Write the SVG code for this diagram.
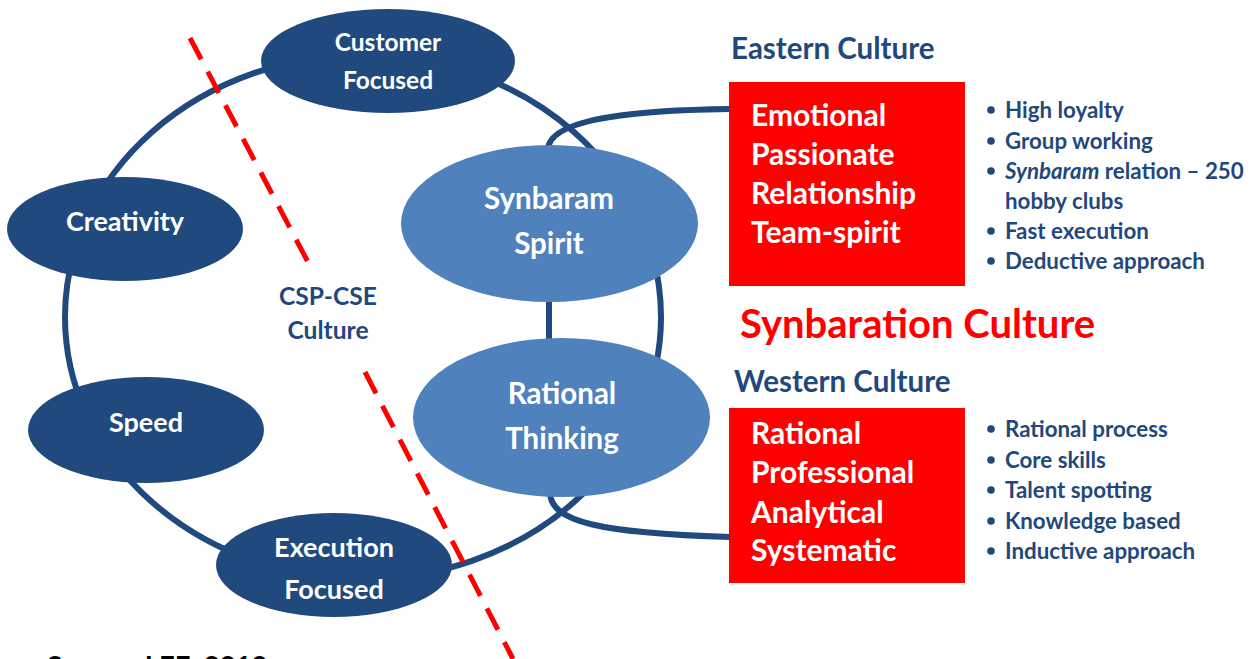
<svg xmlns="http://www.w3.org/2000/svg" width="1260" height="659" viewBox="0 0 1260 659">
  <style>
    .ring { fill: none; stroke: #204A7E; stroke-width: 6; }
    .link { fill: none; stroke: #204A7E; stroke-width: 6; }
    .cut { fill: none; stroke: #FF0000; stroke-width: 5; stroke-dasharray: 24 14; }
    .dark { fill: #204A7E; }
    .light { fill: #4F81BD; }
    .box { fill: #FF0000; }
    text { font-family: Lato, "Open Sans", sans-serif; font-weight: bold; }
    .wt { fill: #FFFFFF; font-size: 27px; text-anchor: middle; }
    .wt.top { font-size: 24.5px; }
    .wl { fill: #FFFFFF; font-size: 29.5px; text-anchor: middle; }
    .bx { fill: #FFFFFF; font-size: 30px; }
    .hd { fill: #1F497D; font-size: 29.5px; }
    .li { fill: #1F497D; font-size: 22.3px; }
    .ct { fill: #1F497D; font-size: 24.6px; text-anchor: middle; }
    .bul { fill: #1F497D; }
  </style>

  <!-- outer cycle and the links to the culture boxes -->
  <g id="connectors">
    <ellipse class="ring" cx="363" cy="317" rx="298" ry="262"/>
    <path class="link" d="M730,109 C650,110 548,116 548,150"/>
    <line class="link" x1="549" y1="290" x2="549" y2="345"/>
    <path class="link" d="M550,492 C550,522 600,533 730,537"/>
  </g>

  <!-- divider between the two halves -->
  <g id="divider">
    <line class="cut" x1="190" y1="38" x2="310" y2="266"/>
    <line class="cut" x1="365" y1="372" x2="513" y2="659"/>
  </g>

  <g id="customer-focused">
    <ellipse class="dark" cx="388" cy="61" rx="127" ry="52"/>
    <text class="wt top" x="388" y="51">Customer</text>
    <text class="wt top" x="388" y="89">Focused</text>
  </g>

  <g id="creativity">
    <ellipse class="dark" cx="125" cy="229" rx="118" ry="52"/>
    <text class="wt" x="125" y="231">Creativity</text>
  </g>

  <g id="speed">
    <ellipse class="dark" cx="146" cy="430" rx="118" ry="53"/>
    <text class="wt" x="146" y="432">Speed</text>
  </g>

  <g id="execution-focused">
    <ellipse class="dark" cx="334" cy="565" rx="118" ry="52"/>
    <text class="wt" x="334" y="557">Execution</text>
    <text class="wt" x="334" y="599">Focused</text>
  </g>

  <g id="synbaram-spirit">
    <ellipse class="light" cx="549.5" cy="223.5" rx="148.5" ry="78.5"/>
    <text class="wl" x="549" y="209">Synbaram</text>
    <text class="wl" x="549" y="254">Spirit</text>
  </g>

  <g id="rational-thinking">
    <ellipse class="light" cx="561.5" cy="417.5" rx="148.5" ry="79.5"/>
    <text class="wl" x="562" y="404">Rational</text>
    <text class="wl" x="562" y="449">Thinking</text>
  </g>

  <g id="csp-cse">
    <text class="ct" x="328" y="305">CSP-CSE</text>
    <text class="ct" x="328" y="339">Culture</text>
  </g>

  <g id="eastern">
    <text class="hd" x="731" y="59">Eastern Culture</text>
    <rect class="box" x="729" y="82" width="236" height="204"/>
    <text class="bx" x="751" y="126">Emotional</text>
    <text class="bx" x="751" y="165">Passionate</text>
    <text class="bx" x="751" y="204">Relationship</text>
    <text class="bx" x="751" y="243">Team-spirit</text>
    <circle class="bul" cx="991" cy="110" r="3.8"/>
    <circle class="bul" cx="991" cy="141" r="3.8"/>
    <circle class="bul" cx="991" cy="171" r="3.8"/>
    <circle class="bul" cx="991" cy="231" r="3.8"/>
    <circle class="bul" cx="991" cy="261" r="3.8"/>
    <text class="li" x="1005" y="118">High loyalty</text>
    <text class="li" x="1005" y="149">Group working</text>
    <text class="li" x="1005" y="179"><tspan font-style="italic">Synbaram</tspan> relation – 250</text>
    <text class="li" x="1005" y="209">hobby clubs</text>
    <text class="li" x="1005" y="239">Fast execution</text>
    <text class="li" x="1005" y="269">Deductive approach</text>
  </g>

  <g id="synbaration">
    <text x="740" y="338" fill="#FF0000" font-size="40">Synbaration Culture</text>
  </g>

  <g id="western">
    <text class="hd" x="734" y="392">Western Culture</text>
    <rect class="box" x="729" y="408" width="236" height="175"/>
    <text class="bx" x="751" y="444">Rational</text>
    <text class="bx" x="751" y="483">Professional</text>
    <text class="bx" x="751" y="523">Analytical</text>
    <text class="bx" x="751" y="561">Systematic</text>
    <circle class="bul" cx="991" cy="429" r="3.8"/>
    <circle class="bul" cx="991" cy="460" r="3.8"/>
    <circle class="bul" cx="991" cy="490" r="3.8"/>
    <circle class="bul" cx="991" cy="521" r="3.8"/>
    <circle class="bul" cx="991" cy="551" r="3.8"/>
    <text class="li" x="1005" y="437">Rational process</text>
    <text class="li" x="1005" y="468">Core skills</text>
    <text class="li" x="1005" y="498">Talent spotting</text>
    <text class="li" x="1005" y="529">Knowledge based</text>
    <text class="li" x="1005" y="559">Inductive approach</text>
  </g>

  <text x="47" y="675" fill="#000000" font-family="'Liberation Serif', serif" font-weight="normal" font-size="27.5">Source: LEE, 2010</text>
</svg>
